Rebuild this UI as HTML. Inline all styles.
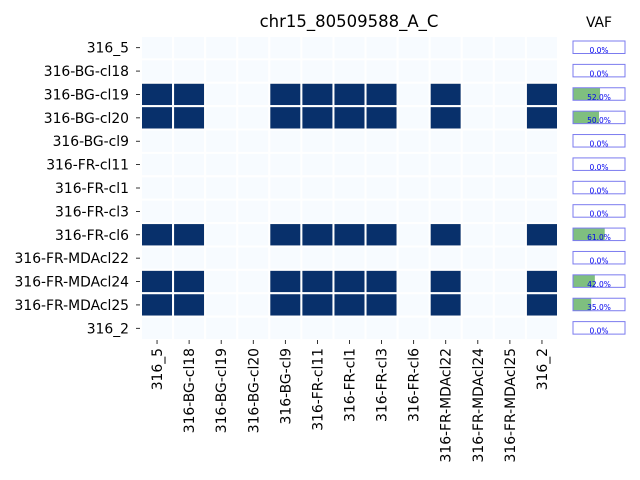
<!DOCTYPE html>
<html><head><meta charset="utf-8"><style>
body{margin:0;background:#fff;font-family:"Liberation Sans","DejaVu Sans",sans-serif}
svg{display:block}
</style></head><body>
<svg id="chart" width="640" height="480" xmlns="http://www.w3.org/2000/svg">
<text x="349" y="27" font-size="16.5" text-anchor="middle" font-family="DejaVu Sans, sans-serif">chr15_80509588_A_C</text>
<text x="599" y="27" font-size="13.9" text-anchor="middle" font-family="DejaVu Sans, sans-serif">VAF</text>
<g id="cells"></g><g id="ylab"></g><g id="xlab"></g><g id="vaf"></g>
</svg>
<script>
const rowLabels=["316_5","316-BG-cl18","316-BG-cl19","316-BG-cl20","316-BG-cl9","316-FR-cl11","316-FR-cl1","316-FR-cl3","316-FR-cl6","316-FR-MDAcl22","316-FR-MDAcl24","316-FR-MDAcl25","316_2"];
const colLabels=["316_5","316-BG-cl18","316-BG-cl19","316-BG-cl20","316-BG-cl9","316-FR-cl11","316-FR-cl1","316-FR-cl3","316-FR-cl6","316-FR-MDAcl22","316-FR-MDAcl24","316-FR-MDAcl25","316_2"];
const mutatedRows=[2,3,8,10,11];
const mutatedCols=[0,1,4,5,6,7,9,12];
const vafValues=[0,0,52,50,0,0,0,0,61,0,42,35,0];
const NS="http://www.w3.org/2000/svg";
const x0=141,x1=558,y0=36,y1=340;
const cw=(x1-x0)/colLabels.length, rh=(y1-y0)/rowLabels.length;
const xs=i=>x0+i*cw, ys=i=>y0+i*rh;
function mk(t,a,p){const e=document.createElementNS(NS,t);for(const k in a)e.setAttribute(k,a[k]);p.appendChild(e);return e;}
const cells=document.getElementById('cells'),yl=document.getElementById('ylab'),xl=document.getElementById('xlab'),vg=document.getElementById('vaf');
rowLabels.forEach((r,i)=>{
  colLabels.forEach((c,j)=>{
    const on=mutatedRows.includes(i)&&mutatedCols.includes(j);
    const el=mk('rect',{x:xs(j),y:ys(i),width:cw,height:rh,fill:on?'#08306b':'#f7fbff',stroke:'#fff','stroke-width':2},cells);
    
    
  });
  const yc=ys(i)+rh/2;
  mk('line',{x1:x0-5,x2:x0-1,y1:yc,y2:yc,stroke:'#000','stroke-width':0.8},yl);
  const t=mk('text',{x:x0-12,y:yc+5,'font-size':13.9,'text-anchor':'end','font-family':'DejaVu Sans, sans-serif'},yl);
  t.textContent=r;
  
  
  const bx=573,bw=52,by=ys(i)+5,bh=12.5;
  const v=vafValues[i];
  const g=mk('rect',{x:bx,y:by,width:bw*v/100,height:bh,fill:'#7fbf7f'},vg);
  
  
  const b=mk('rect',{x:bx,y:by,width:bw,height:bh,fill:'none',stroke:'#7b7bef','stroke-width':1},vg);
  
  
  const vt=mk('text',{x:bx+bw/2,y:by+bh-0.5,'font-size':7.5,fill:'#0000ee','text-anchor':'middle','font-family':'DejaVu Sans, sans-serif'},vg);
  vt.textContent=v.toFixed(1)+'%';
  
  
});
colLabels.forEach((c,j)=>{
  const xc=xs(j)+cw/2;
  mk('line',{x1:xc,x2:xc,y1:y1,y2:y1+4,stroke:'#000','stroke-width':0.8},xl);
  const t=mk('text',{x:0,y:0,'font-size':13.9,'text-anchor':'end','font-family':'DejaVu Sans, sans-serif',transform:`translate(${xc+5},${y1+8}) rotate(-90)`},xl);
  t.textContent=c;
  
  
});
</script>
</body></html>
